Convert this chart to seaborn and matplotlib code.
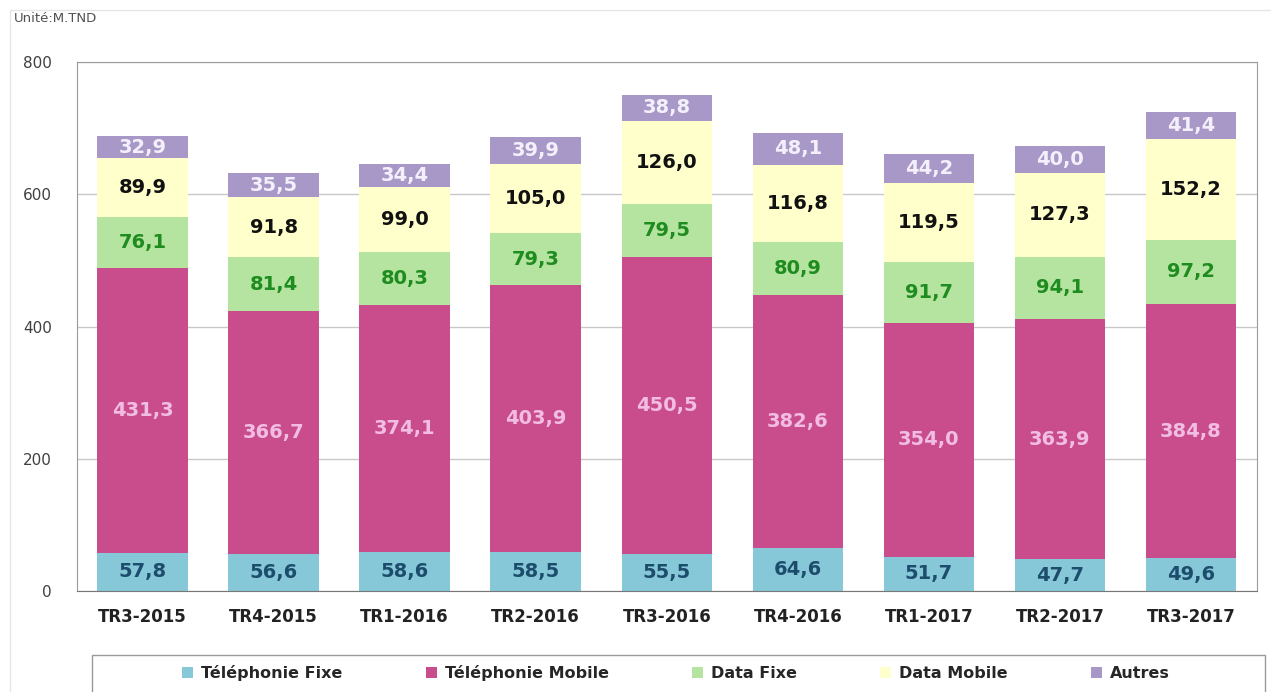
import numpy as np
import pandas as pd
import matplotlib
matplotlib.use("Agg")
import matplotlib.pyplot as plt
from matplotlib.patches import Rectangle
import seaborn as sns

# data (M.TND)
quarters = ["TR3-2015", "TR4-2015", "TR1-2016", "TR2-2016", "TR3-2016",
            "TR4-2016", "TR1-2017", "TR2-2017", "TR3-2017"]
tel_fixe = [57.8, 56.6, 58.6, 58.5, 55.5, 64.6, 51.7, 47.7, 49.6]
tel_mobile = [431.3, 366.7, 374.1, 403.9, 450.5, 382.6, 354.0, 363.9, 384.8]
data_fixe = [76.1, 81.4, 80.3, 79.3, 79.5, 80.9, 91.7, 94.1, 97.2]
data_mobile = [89.9, 91.8, 99.0, 105.0, 126.0, 116.8, 119.5, 127.3, 152.2]
autres = [32.9, 35.5, 34.4, 39.9, 38.8, 48.1, 44.2, 40.0, 41.4]

series_names = ["Téléphonie Fixe", "Téléphonie Mobile", "Data Fixe", "Data Mobile", "Autres"]
series_vals = [tel_fixe, tel_mobile, data_fixe, data_mobile, autres]
bar_colors = ["#86c8d8", "#c94d8c", "#b5e3a0", "#ffffcc", "#a898c8"]
text_colors = ["#1d4d6c", "#f2bde3", "#1f8c1f", "#111111", "#f4f0fb"]

sns.set_style("white")
plt.rcParams["font.family"] = ["DejaVu Sans"]

fig = plt.figure(figsize=(12.71, 6.92), dpi=100)
ax = fig.add_axes([0.0606, 0.146, 0.928, 0.764])

df = pd.DataFrame(dict(zip(series_names, series_vals)), index=quarters)
cum = df.cumsum(axis=1)

# stacked bars: draw cumulative totals from the top series down
for i in range(len(series_names) - 1, -1, -1):
    name = series_names[i]
    sns.barplot(x=quarters, y=cum[name].values, color=bar_colors[i],
                saturation=1, width=0.69, ax=ax, label=name, linewidth=0,
                zorder=2 + (5 - i) * 0.01)

handles, labels = ax.get_legend_handles_labels()
if ax.get_legend() is not None:
    ax.get_legend().remove()

# value labels
for i, name in enumerate(series_names):
    bottoms = cum[name].values - df[name].values
    for j, v in enumerate(df[name].values):
        ax.text(j, bottoms[j] + v / 2, f"{v:.1f}".replace(".", ","),
                ha="center", va="center", fontsize=14, fontweight="bold",
                color=text_colors[i], zorder=5)

ax.set_ylim(0, 800)
ax.set_xlim(-0.5, len(quarters) - 0.5)
ax.set_yticks([0, 200, 400, 600, 800])
ax.yaxis.grid(True, color="#c8c8c8", lw=1)
ax.set_axisbelow(True)
ax.tick_params(axis="y", length=0, pad=18, labelsize=11, labelcolor="#404040")
ax.tick_params(axis="x", length=0, pad=12, labelsize=12)
for lab in ax.get_xticklabels():
    lab.set_fontweight("bold")
    lab.set_color("#222222")
ax.set_xticks(np.arange(-0.5, len(quarters), 1), minor=True)
ax.tick_params(axis="x", which="minor", length=4, direction="in", color="#888888")
for side in ["left", "top", "right"]:
    ax.spines[side].set_color("#9a9a9a")
ax.spines["bottom"].set_color("#777777")
ax.set_xlabel("")

# unit label
fig.text(14 / 1271, 1 - 18 / 692, "Unité:M.TND", fontsize=9.5, color="#505050", va="center")

# outer chart border
fig.patches.append(Rectangle((10 / 1271, -0.05), 1.2, 1 - 10 / 692 + 0.05,
                             transform=fig.transFigure, fill=False,
                             edgecolor="#e6e6e6", lw=1))

# legend box
fig.patches.append(Rectangle((92 / 1271, -0.05), (1265 - 92) / 1271, 1 - 655 / 692 + 0.05,
                             transform=fig.transFigure, fill=False,
                             edgecolor="#9a9a9a", lw=1))
handles, labels = handles[::-1], labels[::-1]
leg = fig.legend(handles, labels, loc="center", bbox_to_anchor=(676 / 1271, 1 - 673 / 692),
                 ncol=5, frameon=False, handlelength=0.7, handleheight=0.7,
                 handletextpad=0.5, columnspacing=5.2,
                 prop={"weight": "bold", "size": 11.5})

fig.savefig("out.png", dpi=100)
